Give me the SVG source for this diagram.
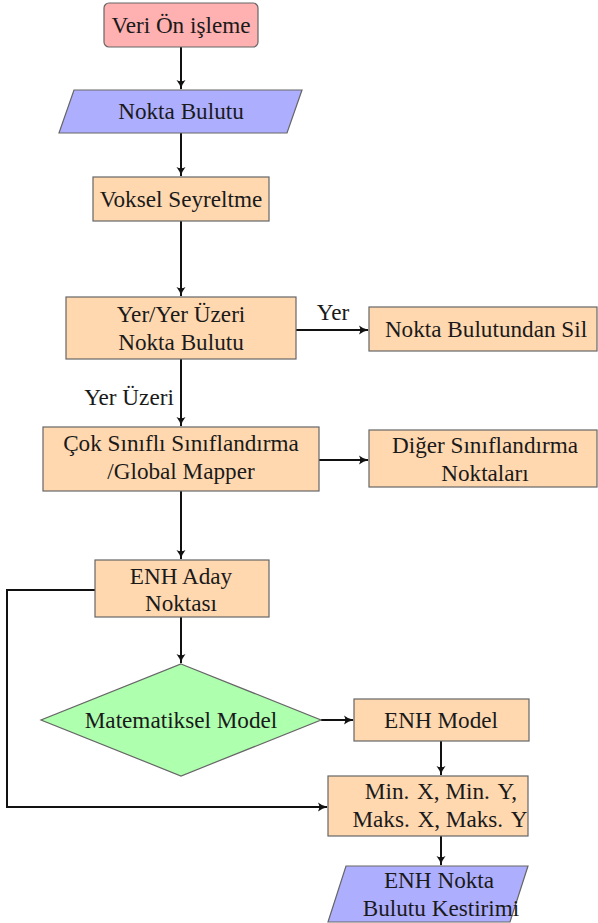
<svg xmlns="http://www.w3.org/2000/svg" width="598" height="923" viewBox="0 0 598 923">
<style>
  .t{font-family:"Liberation Serif","Times New Roman",serif;font-size:23.2px;fill:#1a1a1a;text-anchor:middle}
  .box{stroke:#666;stroke-width:1.2}
  .red{fill:#ffb0b0}
  .blue{fill:#aeaeff}
  .orange{fill:#ffd8b0}
  .green{fill:#aeffae}
  .c{fill:none;stroke:#111;stroke-width:2;marker-end:url(#ah)}
</style>
<defs>
  <marker id="ah" viewBox="0 0 10 10" refX="9" refY="5" markerWidth="5" markerHeight="5" markerUnits="strokeWidth" orient="auto">
    <path d="M0,0.5 Q4,4 10,5 Q4,6 0,9.5 Q2.5,5 0,0.5 Z" fill="#111"/>
  </marker>
</defs>
<rect width="598" height="923" fill="#fff"/>
<g id="connectors">
  <path class="c" d="M181,47 V89"/>
  <path class="c" d="M181,133 V176"/>
  <path class="c" d="M181,221 V296"/>
  <path class="c" d="M296,330 H368"/>
  <path class="c" d="M181,359 V426"/>
  <path class="c" d="M319,460 H368"/>
  <path class="c" d="M181,491 V559"/>
  <path class="c" d="M181,617 V663"/>
  <path class="c" d="M321,720 H353"/>
  <path class="c" d="M441,741 V775"/>
  <path class="c" d="M95,590 H7 V807 H327"/>
  <path class="c" d="M441,836 V865"/>
  <text class="t" x="333" y="320">Yer</text>
  <text class="t" x="129" y="405">Yer Üzeri</text>
</g>
<g id="veri">
  <rect class="box red" x="104" y="3" width="154" height="44" rx="5"/>
  <text class="t" x="181" y="33">Veri Ön işleme</text>
</g>
<g id="nokta">
  <polygon class="box blue" points="74,90 302,90 287,133 59,133"/>
  <text class="t" x="181" y="119">Nokta Bulutu</text>
</g>
<g id="voksel">
  <rect class="box orange" x="93" y="177" width="176" height="44"/>
  <text class="t" x="181" y="207">Voksel Seyreltme</text>
</g>
<g id="yer">
  <rect class="box orange" x="66" y="297" width="230" height="62"/>
  <text class="t" x="181" y="322">Yer/Yer Üzeri</text>
  <text class="t" x="181" y="350">Nokta Bulutu</text>
</g>
<g id="sil">
  <rect class="box orange" x="369" y="307" width="228" height="44"/>
  <text class="t" x="486" y="337">Nokta Bulutundan Sil</text>
</g>
<g id="cok">
  <rect class="box orange" x="43" y="427" width="276" height="64"/>
  <text class="t" x="181" y="451">Çok Sınıflı Sınıflandırma</text>
  <text class="t" x="181" y="479">/Global Mapper</text>
</g>
<g id="diger">
  <rect class="box orange" x="369" y="430" width="228" height="57"/>
  <text class="t" x="485" y="453">Diğer Sınıflandırma</text>
  <text class="t" x="485" y="481">Noktaları</text>
</g>
<g id="aday">
  <rect class="box orange" x="95" y="560" width="174" height="57"/>
  <text class="t" x="181" y="584">ENH Aday</text>
  <text class="t" x="181" y="611">Noktası</text>
</g>
<g id="mat">
  <polygon class="box green" points="181,664 321,720 181,776 41,720"/>
  <text class="t" x="181" y="728">Matematiksel Model</text>
</g>
<g id="enhmodel">
  <rect class="box orange" x="354" y="699" width="175" height="42"/>
  <text class="t" x="441" y="728">ENH Model</text>
</g>
<g id="minmax">
  <rect class="box orange" x="328" y="776" width="200" height="60"/>
  <text class="t" x="441" y="799">Min.&#8196;X, Min.&#8196;Y,</text>
  <text class="t" x="440" y="827">Maks.&#8196;X, Maks.&#8196;Y</text>
</g>
<g id="kestirim">
  <polygon class="box blue" points="346,866 528,866 510,922 328,922"/>
  <text class="t" x="439" y="888">ENH Nokta</text>
  <text class="t" x="441" y="916">Bulutu Kestirimi</text>
</g>
</svg>
